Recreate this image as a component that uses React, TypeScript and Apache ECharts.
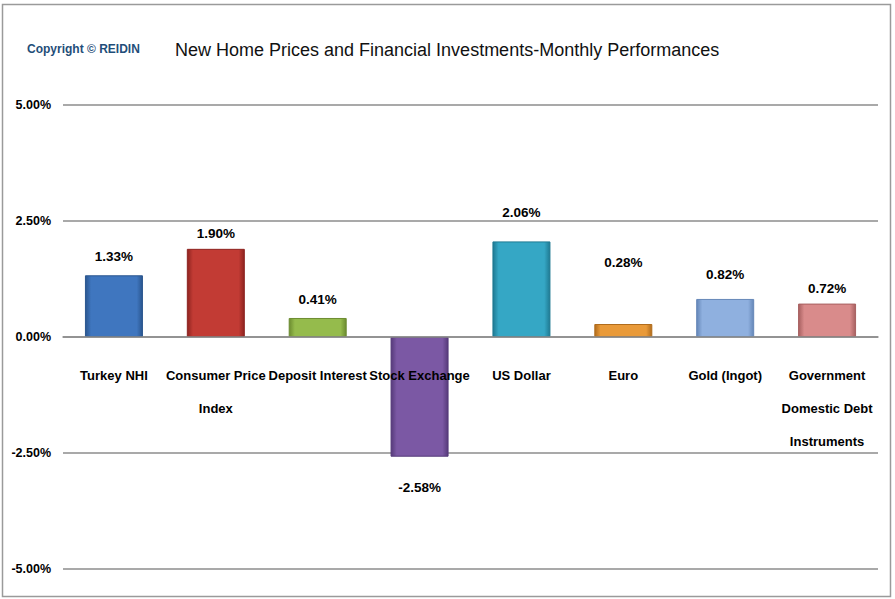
import React, { useEffect, useRef } from "react";
import * as echarts from "echarts";

const categories = [
  "Turkey NHI",
  "Consumer Price\nIndex",
  "Deposit Interest",
  "Stock Exchange",
  "US Dollar",
  "Euro",
  "Gold (Ingot)",
  "Government\nDomestic Debt\nInstruments",
];
const values = [1.33, 1.9, 0.41, -2.58, 2.06, 0.28, 0.82, 0.72];
const yMin = -5;
const yMax = 5;
const yStep = 2.5;
const titleText = "New Home Prices and Financial Investments-Monthly Performances";
const copyrightText = "Copyright © REIDIN";

// styles
const barBase = ["#3f76bf", "#c23b34", "#95bb4c", "#7b58a4", "#35a7c5", "#e99a39", "#8fb0df", "#d98b8b"];
const barEdge = ["#2a568f", "#8e2420", "#6c8c30", "#563a7a", "#1f7a93", "#b16c1c", "#6587b8", "#a76060"];
const labelDistances = [12, 8, 11, 24, 22, 55, 17, 8];

const FONT = "'Liberation Sans', Arial, sans-serif";
const W = 895;
const H = 599;
const GRID = { left: 63, right: 17, top: 105, bottom: 30 };

export default function App() {
  const ref = useRef<HTMLDivElement>(null);
  useEffect(() => {
    if (!ref.current) return;
    const chart = echarts.init(ref.current, undefined, { renderer: "svg" });
    const gridHeight = H - GRID.top - GRID.bottom;
    // move the category axis (line + labels) up to the zero value
    const zeroOffset = (gridHeight * (0 - yMin)) / (yMax - yMin);
    const data = values.map((v, i) => ({
      value: v,
      itemStyle: {
        color: {
          type: "linear",
          x: 0,
          y: 0,
          x2: 1,
          y2: 0,
          colorStops: [
            { offset: 0, color: barEdge[i] },
            { offset: 0.1, color: barBase[i] },
            { offset: 0.9, color: barBase[i] },
            { offset: 1, color: barEdge[i] },
          ],
        },
        borderColor: barEdge[i],
        borderWidth: 1,
      },
      label: {
        position: v < 0 ? "bottom" : "top",
        distance: labelDistances[i],
      },
    }));
    chart.setOption({
      animation: false,
      backgroundColor: "#ffffff",
      grid: {
        ...GRID,
        containLabel: false,
        outerBoundsMode: "none",
      },
      graphic: [
        {
          type: "rect",
          shape: { x: 2.5, y: 4.5, width: 888, height: 592 },
          style: { fill: "none", stroke: "#9a9a9a", lineWidth: 1.5 },
          silent: true,
        },
        {
          type: "text",
          x: 27,
          y: 49,
          style: {
            text: copyrightText,
            fill: "#1f4e79",
            fontSize: 12,
            fontWeight: "bold",
            fontFamily: FONT,
            verticalAlign: "middle",
          },
        },
        {
          type: "text",
          x: 175,
          y: 50,
          style: {
            text: titleText,
            fill: "#111111",
            fontSize: 18,
            fontFamily: FONT,
            verticalAlign: "middle",
          },
        },
      ],
      xAxis: {
        type: "category",
        data: categories,
        position: "bottom",
        offset: -zeroOffset,
        z: 5,
        axisLine: { show: true, onZero: false, lineStyle: { color: "#8c8c8c", width: 1.5 } },
        axisTick: { show: false },
        axisLabel: {
          interval: 0,
          margin: 22,
          color: "#000",
          fontSize: 13,
          fontWeight: "bold",
          fontFamily: FONT,
          lineHeight: 33,
        },
        splitLine: { show: false },
      },
      yAxis: {
        type: "value",
        min: yMin,
        max: yMax,
        interval: yStep,
        axisLine: { show: false },
        axisTick: { show: false },
        axisLabel: {
          margin: 12,
          color: "#000",
          fontSize: 12.5,
          fontWeight: "bold",
          fontFamily: FONT,
          formatter: (v: number) => v.toFixed(2) + "%",
        },
        splitLine: { show: true, lineStyle: { color: "#8c8c8c", width: 1.5 } },
      },
      series: [
        {
          type: "bar",
          data,
          barWidth: 58,
          label: {
            show: true,
            color: "#000",
            fontSize: 13.5,
            fontWeight: "bold",
            fontFamily: FONT,
            formatter: (p: any) => Number(p.value).toFixed(2) + "%",
          },
        },
      ],
    });
    return () => chart.dispose();
  }, []);
  return (
    <div
      ref={ref}
      style={{ position: "absolute", left: 0, top: 0, width: W, height: H, background: "#fff" }}
    />
  );
}
